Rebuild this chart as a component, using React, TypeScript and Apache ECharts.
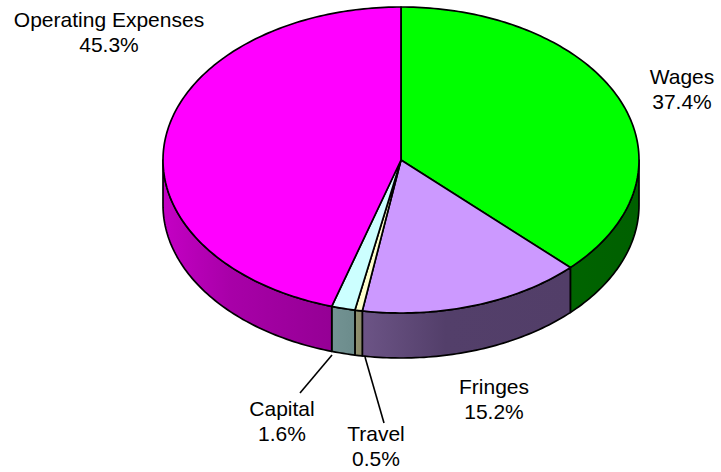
import React, { useEffect, useRef } from "react";
import * as echarts from "echarts";

const categories = ["Wages", "Fringes", "Travel", "Capital", "Operating Expenses"];
const shares = [37.4, 15.2, 0.5, 1.6, 45.3];
const topColors = ["#00ff00", "#cc99ff", "#ffffcc", "#ccffff", "#ff00ff"];
const sideLeft = ["#006400", "#6c5486", "#90906f", "#739494", "#c400c4"];
const sideMid = ["#006200", "#533f6a", "#8d8d6c", "#709090", "#a800a8"];
const sideRight = ["#006000", "#523e68", "#8a8a6a", "#6c8c8c", "#950095"];

const labelPos: [number, number][] = [[682, 89], [494, 399], [376, 445.5], [282, 421], [109, 32]];
const leaders: ([number, number, number, number] | null)[] = [
  null, null, [365, 357, 384, 423], [332, 355, 300, 393], null,
];

const CX = 401, CY = 160, RX = 238, RY = 153, DEPTH = 45;
const total = shares.reduce((a, b) => a + b, 0);
const pt = (deg: number, dy = 0): number[] => {
  const r = (deg * Math.PI) / 180;
  return [CX + RX * Math.sin(r), CY - RY * Math.cos(r) + dy];
};
const arc = (a: number, b: number, dy = 0): number[][] => {
  const n = Math.max(2, Math.ceil(Math.abs(b - a)));
  const out: number[][] = [];
  for (let i = 0; i <= n; i++) out.push(pt(a + ((b - a) * i) / n, dy));
  return out;
};

function renderItem(params: any, api: any) {
  const i = params.dataIndex;
  let before = 0;
  for (let k = 0; k < i; k++) before += shares[k];
  const start = (before / total) * 360;
  const end = ((before + (api.value(0) as number)) / total) * 360;
  const children: any[] = [];
  const stroke = { stroke: "#000", lineWidth: 1.7, lineJoin: "round" };

  const a = Math.max(start, 90), b = Math.min(end, 270);
  if (b > a) {
    const top = arc(a, b);
    const bottom = arc(b, a, DEPTH);
    children.push({
      type: "polygon",
      shape: { points: top.concat(bottom) },
      style: {
        ...stroke,
        fill: new echarts.graphic.LinearGradient(0, 0, 1, 0, [
          { offset: 0, color: sideLeft[i] },
          { offset: 0.4, color: sideMid[i] },
          { offset: 1, color: sideRight[i] },
        ]),
      },
      z2: 1,
    });
  }
  children.push({
    type: "polygon",
    shape: { points: [[CX, CY], ...arc(start, end)] },
    style: { ...stroke, fill: topColors[i] },
    z2: 2,
  });
  const l = leaders[i];
  if (l) {
    children.push({
      type: "line",
      shape: { x1: l[0], y1: l[1], x2: l[2], y2: l[3] },
      style: { stroke: "#000", lineWidth: 1.6 },
      z2: 3,
    });
  }
  children.push({
    type: "text",
    x: labelPos[i][0],
    y: labelPos[i][1],
    style: {
      text: `${categories[i]}\n${(api.value(0) as number).toFixed(1)}%`,
      fill: "#000",
      font: '21px "Liberation Sans", Arial, sans-serif',
      lineHeight: 25,
      align: "center",
      verticalAlign: "middle",
    },
    z2: 4,
  });
  return { type: "group", children };
}

export default function App() {
  const ref = useRef<HTMLDivElement>(null);
  useEffect(() => {
    const chart = echarts.init(ref.current!, null, { renderer: "svg" });
    chart.setOption({
      animation: false,
      backgroundColor: "#ffffff",
      series: [
        {
          type: "custom",
          coordinateSystem: "none",
          renderItem,
          data: shares.map((v) => [v]),
          silent: true,
        },
      ],
    });
    return () => chart.dispose();
  }, []);
  return <div ref={ref} style={{ position: "absolute", left: 0, top: 0, width: 721, height: 472 }} />;
}
